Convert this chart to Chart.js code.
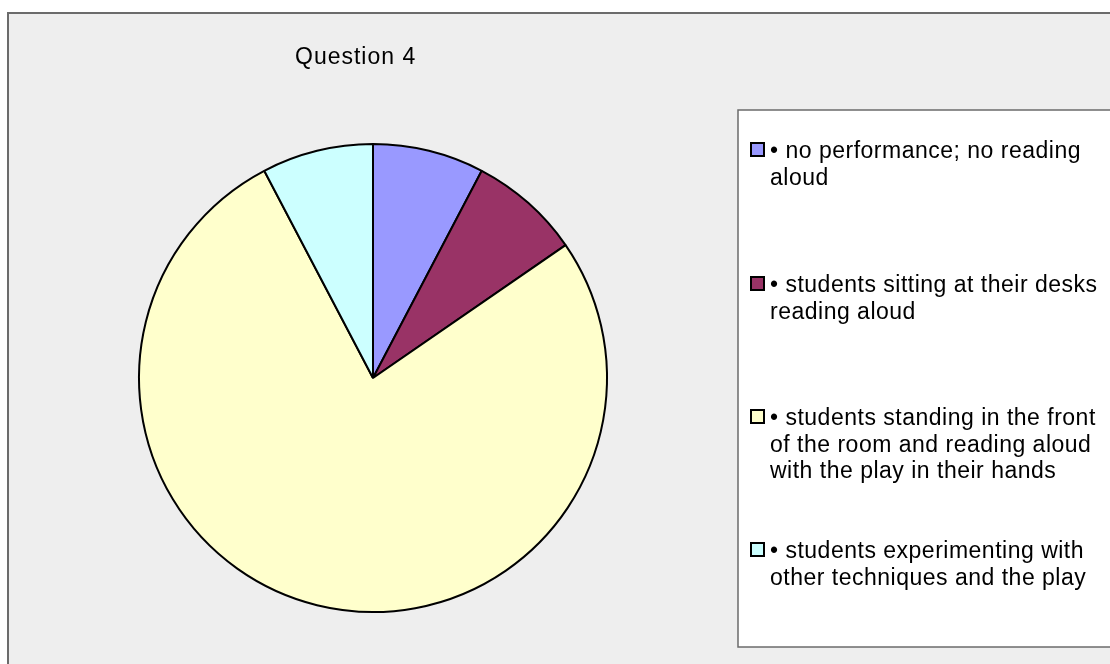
<!DOCTYPE html>
<html>
<head>
<meta charset="utf-8">
<title>Question 4</title>
<script src="https://cdn.jsdelivr.net/npm/chart.js@4.4.1/dist/chart.umd.min.js"></script>
<style>
  html, body { margin: 0; padding: 0; background: #ffffff; }
  #wrap { position: relative; width: 1110px; height: 664px; }
</style>
</head>
<body>
<div id="wrap"><canvas id="pie"></canvas></div>
<script>
// ── Data ─────────────────────────────────
const chartTitle = 'Question 4';

const categories = [
  ['\u2022 no performance; no reading', 'aloud'],
  ['\u2022 students sitting at their desks', 'reading aloud'],
  ['\u2022 students standing in the front', 'of the room and reading aloud', 'with the play in their hands'],
  ['\u2022 students experimenting with', 'other techniques and the play']
];

const responses = [1, 1, 10, 1];

const sliceColors = ['#9999ff', '#993366', '#ffffcc', '#ccffff'];

// ── Look ─────────────────────────────────
const FONT     = '"Liberation Sans", Arial, sans-serif';
const frameBg  = '#eeeeee';
const frameLn  = '#6b6b6b';

// frame, title and legend box drawn around the pie
const decorPlugin = {
  id: 'decor',
  beforeDraw(chart) {
    const { ctx } = chart;
    ctx.save();
    // outer chart frame (runs off the right / bottom edge)
    ctx.fillStyle = frameBg;
    ctx.fillRect(8, 13, 1200, 700);
    ctx.strokeStyle = frameLn;
    ctx.lineWidth = 2;
    ctx.strokeRect(8, 13, 1200, 700);

    // legend box
    ctx.fillStyle = '#ffffff';
    ctx.fillRect(738, 110, 500, 537);
    ctx.strokeStyle = frameLn;
    ctx.lineWidth = 1.5;
    ctx.strokeRect(738, 110, 500, 537);
    ctx.restore();
  },
  afterDraw(chart) {
    const { ctx } = chart;
    ctx.save();

    // title
    ctx.fillStyle = '#000000';
    ctx.font = `23px ${FONT}`;
    ctx.letterSpacing = '1px';
    ctx.textBaseline = 'alphabetic';
    ctx.textAlign = 'left';
    ctx.fillText(chartTitle, 295, 64);

    // legend items
    const labels = chart.data.labels;
    const ds     = chart.data.datasets[0];
    const firstBase = [158, 292, 425, 558];
    ctx.font = `23px ${FONT}`;
    ctx.letterSpacing = '0.5px';

    labels.forEach((lines, i) => {
      const y = firstBase[i];
      // swatch
      ctx.fillStyle = ds.backgroundColor[i];
      ctx.fillRect(751, y - 15, 13, 13);
      ctx.strokeStyle = '#000000';
      ctx.lineWidth = 2;
      ctx.strokeRect(751, y - 15, 13, 13);

      ctx.fillStyle = '#000000';
      lines.forEach((line, j) => {
        ctx.fillText(line, 770, y + j * 26.5);
      });
    });

    ctx.restore();
  }
};

const chart = new Chart(document.getElementById('pie'), {
  type: 'pie',
  data: {
    labels: categories,
    datasets: [{
      data:            responses,
      backgroundColor: sliceColors,
      borderColor:     '#000000',
      borderWidth:     2,
      hoverOffset:     0
    }]
  },
  options: {
    responsive:          true,
    maintainAspectRatio: false,
    animation:           false,
    layout: {
      padding: { left: 138, top: 143, right: 502, bottom: 51 }
    },
    plugins: {
      legend:  { display: false },
      title:   { display: false },
      tooltip: { enabled: false }
    }
  },
  plugins: [decorPlugin]
});

document.getElementById('wrap').style.height = '664px';
</script>
</body>
</html>
